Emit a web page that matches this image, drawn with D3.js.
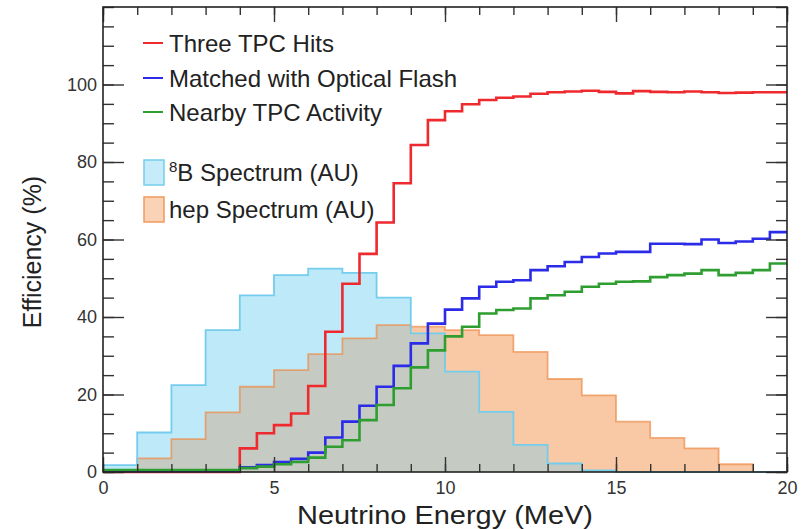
<!DOCTYPE html>
<html>
<head>
<meta charset="utf-8">
<script src="https://cdn.jsdelivr.net/npm/d3@7"></script>
<style>
  body { margin: 0; background: #fff; }
  svg { font-family: "Liberation Sans", Arial, sans-serif; }
</style>
</head>
<body>
<script>
// spectra: 1 MeV bins from 0 to 20 MeV (arbitrary units)
const spectrumBins = d3.range(0, 20, 1);
const b8Spectrum  = [1.8, 10.2, 22.4, 36.6, 45.6, 50.8, 52.5, 51.4, 45.0, 35.8,
                     25.9, 15.5, 7.0, 2.2, 0.4, 0, 0, 0, 0, 0];
const hepSpectrum = [0.3, 3.5, 8.5, 15.4, 22.0, 26.3, 30.4, 34.5, 37.9, 37.5,
                     36.6, 35.3, 31.0, 24.0, 19.8, 13.0, 8.8, 6.1, 2.0, 0];

// efficiencies (%): 0.5 MeV bins from 0 to 20 MeV
const effBins = d3.range(0, 20, 0.5);
const threeTpcHits = [0, 0, 0, 0, 0, 0, 0, 0,
                      6.1, 10.0, 12.1, 15.1, 22.2, 36.2, 48.6, 56.3, 64.4, 74.5,
                      84.4, 90.8, 93.1, 94.9, 96.0, 96.6, 96.9, 97.6, 98.0, 98.2,
                      98.4, 98.1, 97.7, 98.3, 98.1, 98.0, 98.2, 98.0, 97.8, 97.9, 98.0, 98.0];
const opticalFlash = [0.3, 0.3, 0.3, 0.3, 0.3, 0.3, 0.3, 0.3,
                      1.2, 1.8, 2.6, 3.4, 5.0, 8.9, 13.0, 17.1, 22.0, 27.4,
                      33.2, 38.3, 41.9, 44.8, 47.8, 49.1, 49.5, 52.1, 53.1, 54.2,
                      55.5, 56.4, 56.8, 56.8, 58.9, 58.9, 58.8, 60.0, 59.1, 59.5, 60.2, 61.9];
const nearbyActivity = [0.5, 0.5, 0.5, 0.5, 0.5, 0.5, 0.5, 0.5,
                      1.0, 1.4, 2.0, 2.6, 3.7, 6.5, 8.2, 13.4, 17.3, 21.6,
                      27.0, 31.4, 35.0, 37.5, 40.9, 41.8, 42.2, 44.8, 45.6, 46.5,
                      47.8, 48.6, 49.1, 49.2, 50.3, 50.8, 51.2, 52.1, 50.8, 51.4, 52.1, 53.8];

const xTicksMajor = [0, 5, 10, 15, 20];
const yTicksMajor = [0, 20, 40, 60, 80, 100];

const W = 809, H = 529;
const MARGIN = {top: 7, right: 22, bottom: 57, left: 103};

const svg = d3.select("body").append("svg")
    .attr("width", W)
    .attr("height", H);

const x = d3.scaleLinear().domain([0, 20]).range([MARGIN.left, W - MARGIN.right]);
const y = d3.scaleLinear().domain([0, 120]).range([H - MARGIN.bottom, MARGIN.top]);

// turn bin lower edges + values into step points, closing at the last upper edge
function steps(edges, values, width) {
    const pts = edges.map((e, i) => [e, values[i]]);
    pts.push([edges[edges.length - 1] + width, values[values.length - 1]]);
    return pts;
}

const area = d3.area()
    .curve(d3.curveStepAfter)
    .x(d => x(d[0]))
    .y0(y(0))
    .y1(d => y(d[1]));

const line = d3.line()
    .curve(d3.curveStepAfter)
    .x(d => x(d[0]))
    .y(d => y(d[1]));

const overlap = b8Spectrum.map((v, i) => Math.min(v, hepSpectrum[i]));

const plot = svg.append("g");

// spectrum fills
plot.append("path").attr("d", area(steps(spectrumBins, b8Spectrum, 1))).attr("fill", "#bde9f8");
plot.append("path").attr("d", area(steps(spectrumBins, hepSpectrum, 1))).attr("fill", "#f9c9a6");
plot.append("path").attr("d", area(steps(spectrumBins, overlap, 1))).attr("fill", "#c5cbc3");

// spectrum edges
plot.append("path").attr("d", line(steps(spectrumBins, hepSpectrum, 1)))
    .attr("fill", "none").attr("stroke", "#ec8b48").attr("stroke-opacity", 0.7).attr("stroke-width", 1.8);
plot.append("path").attr("d", line(steps(spectrumBins, b8Spectrum, 1)))
    .attr("fill", "none").attr("stroke", "#74cdec").attr("stroke-width", 1.8);

// efficiency curves
const effSeries = [
    {label: "Three TPC Hits", values: threeTpcHits, color: "#ee2a2e"},
    {label: "Matched with Optical Flash", values: opticalFlash, color: "#2b2be8"},
    {label: "Nearby TPC Activity", values: nearbyActivity, color: "#2f9e31"}
];

effSeries.forEach(s => {
    plot.append("path")
        .attr("d", line(steps(effBins, s.values, 0.5)))
        .attr("fill", "none")
        .attr("stroke", s.color)
        .attr("stroke-width", 2.6)
        .attr("stroke-linejoin", "miter");
});

// axes, ROOT style: ticks pointing inward on all four sides
function styleAxis(g) {
    g.select(".domain").remove();
    g.selectAll("line").attr("stroke", "#333").attr("stroke-width", 1.4);
    g.selectAll("text").attr("fill", "#333").attr("font-size", 18)
        .attr("font-family", "Liberation Sans, Arial, sans-serif");
}

const xMinor = d3.range(0, 21, 1);
const yMinor = d3.range(0, 121, 5);
const bottomY = H - MARGIN.bottom, rightX = W - MARGIN.right;

svg.append("g").attr("transform", `translate(0,${bottomY})`)
    .call(d3.axisBottom(x).tickValues(xMinor).tickSize(-8).tickFormat(""))
    .call(styleAxis);
svg.append("g").attr("transform", `translate(0,${bottomY})`)
    .call(d3.axisBottom(x).tickValues(xTicksMajor).tickSize(-15).tickPadding(9).tickFormat(d3.format("d")))
    .call(styleAxis);
svg.append("g").attr("transform", `translate(0,${MARGIN.top})`)
    .call(d3.axisTop(x).tickValues(xMinor).tickSize(-8).tickFormat(""))
    .call(styleAxis);
svg.append("g").attr("transform", `translate(0,${MARGIN.top})`)
    .call(d3.axisTop(x).tickValues(xTicksMajor).tickSize(-15).tickFormat(""))
    .call(styleAxis);

svg.append("g").attr("transform", `translate(${MARGIN.left},0)`)
    .call(d3.axisLeft(y).tickValues(yMinor).tickSize(-11).tickFormat(""))
    .call(styleAxis);
svg.append("g").attr("transform", `translate(${MARGIN.left},0)`)
    .call(d3.axisLeft(y).tickValues(yTicksMajor).tickSize(-21).tickPadding(6).tickFormat(d3.format("d")))
    .call(styleAxis);
svg.append("g").attr("transform", `translate(${rightX},0)`)
    .call(d3.axisRight(y).tickValues(yMinor).tickSize(-11).tickFormat(""))
    .call(styleAxis);
svg.append("g").attr("transform", `translate(${rightX},0)`)
    .call(d3.axisRight(y).tickValues(yTicksMajor).tickSize(-21).tickFormat(""))
    .call(styleAxis);

// frame
svg.append("rect")
    .attr("x", MARGIN.left).attr("y", MARGIN.top)
    .attr("width", rightX - MARGIN.left).attr("height", bottomY - MARGIN.top)
    .attr("fill", "none").attr("stroke", "#222").attr("stroke-width", 1.6);

// axis titles
svg.append("text")
    .attr("x", x(10)).attr("y", 524)
    .attr("text-anchor", "middle")
    .attr("font-size", 26)
    .attr("textLength", 296).attr("lengthAdjust", "spacingAndGlyphs")
    .attr("fill", "#222")
    .text("Neutrino Energy (MeV)");

svg.append("text")
    .attr("transform", "translate(41,252) rotate(-90)")
    .attr("text-anchor", "middle")
    .attr("font-size", 25)
    .attr("fill", "#222")
    .text("Efficiency (%)");

// legend
const legend = svg.append("g").attr("font-size", 24).attr("fill", "#222");
const legendRowY = [43, 78, 112];
effSeries.forEach((s, i) => {
    legend.append("line")
        .attr("x1", 143).attr("x2", 163)
        .attr("y1", legendRowY[i]).attr("y2", legendRowY[i])
        .attr("stroke", s.color).attr("stroke-width", 2);
    legend.append("text")
        .attr("x", 169).attr("y", legendRowY[i] + 9)
        .text(s.label);
});

const boxes = [
    {y: 160, fill: "#c6ecfa", stroke: "#74cdec", sup: "8", label: "B Spectrum (AU)"},
    {y: 197, fill: "#fad3b6", stroke: "#ef9a5c", sup: "", label: "hep Spectrum (AU)"}
];
boxes.forEach(b => {
    legend.append("rect")
        .attr("x", 144).attr("y", b.y)
        .attr("width", 20).attr("height", 25)
        .attr("fill", b.fill).attr("stroke", b.stroke).attr("stroke-width", 1.5);
    const t = legend.append("text").attr("x", 169).attr("y", b.y + 21);
    if (b.sup) {
        t.append("tspan").attr("font-size", 15).attr("dy", -9).text(b.sup);
        t.append("tspan").attr("dy", 9).text(b.label);
    } else {
        t.text(b.label);
    }
});
</script>
</body>
</html>
